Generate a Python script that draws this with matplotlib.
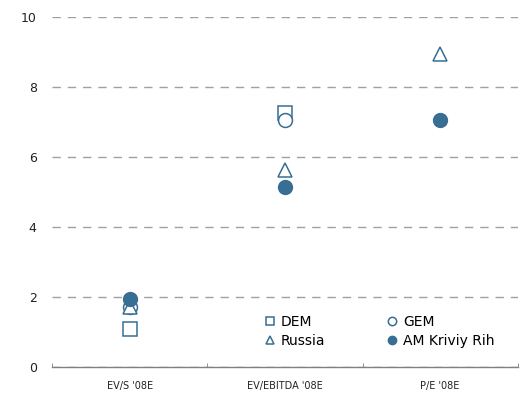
import numpy as np
import matplotlib.pyplot as plt

categories = ["EV/S '08E", "EV/EBITDA '08E", "P/E '08E"]
dem = [1.1, 7.27, np.nan]
gem = [1.72, 7.07, np.nan]
russia = [1.7, 5.63, 8.95]
am_kriviy_rih = [1.95, 5.15, 7.07]

blue = '#386d94'

fig = plt.figure(figsize=(5.3, 3.94), dpi=100)
ax = fig.add_axes([0.098, 0.0685, 0.879, 0.8885])

x = np.arange(len(categories))
ms = 10
ax.plot(x, dem, 's', ms=ms, mfc='white', mec=blue, mew=1.1, ls='none', label='DEM', zorder=3)
ax.plot(x, gem, 'o', ms=ms, mfc='white', mec=blue, mew=1.1, ls='none', label='GEM', zorder=3)
ax.plot(x, russia, '^', ms=ms, mfc='white', mec=blue, mew=1.1, ls='none', label='Russia', zorder=3)
ax.plot(x, am_kriviy_rih, 'o', ms=ms, mfc=blue, mec=blue, ls='none', label='AM Kriviy Rih', zorder=4)

ax.set_xlim(-0.5, len(categories) - 0.5)
ax.set_ylim(0, 10)
ax.set_yticks(np.arange(0, 11, 2))
ax.yaxis.grid(True, color='#a0a0a0', ls=(0, (6, 5)), lw=1)
ax.set_axisbelow(True)

for s in ['left', 'right', 'top']:
    ax.spines[s].set_visible(False)
ax.spines['bottom'].set_color('#808080')
ax.spines['bottom'].set_linewidth(1)

ax.set_xticks(x)
ax.set_xticklabels(categories, fontsize=7, color='#222222')
ax.set_xticks(np.arange(-0.5, len(categories)), minor=True)
ax.tick_params(axis='x', which='major', length=0, pad=10)
ax.tick_params(axis='x', which='minor', length=3, color='#808080', direction='in')
ax.tick_params(axis='y', length=0, labelsize=9, pad=11, labelcolor='#222222')

h, l = ax.get_legend_handles_labels()
order = [0, 2, 1, 3]
leg = ax.legend([h[i] for i in order], [l[i] for i in order], ncol=2, frameon=False,
                loc='lower left', bbox_to_anchor=(0.432, 0.02), fontsize=10,
                handlelength=0.6, handletextpad=0.5, columnspacing=4.5,
                labelspacing=0.35, markerscale=0.6)

fig.savefig('out.png', dpi=100)
